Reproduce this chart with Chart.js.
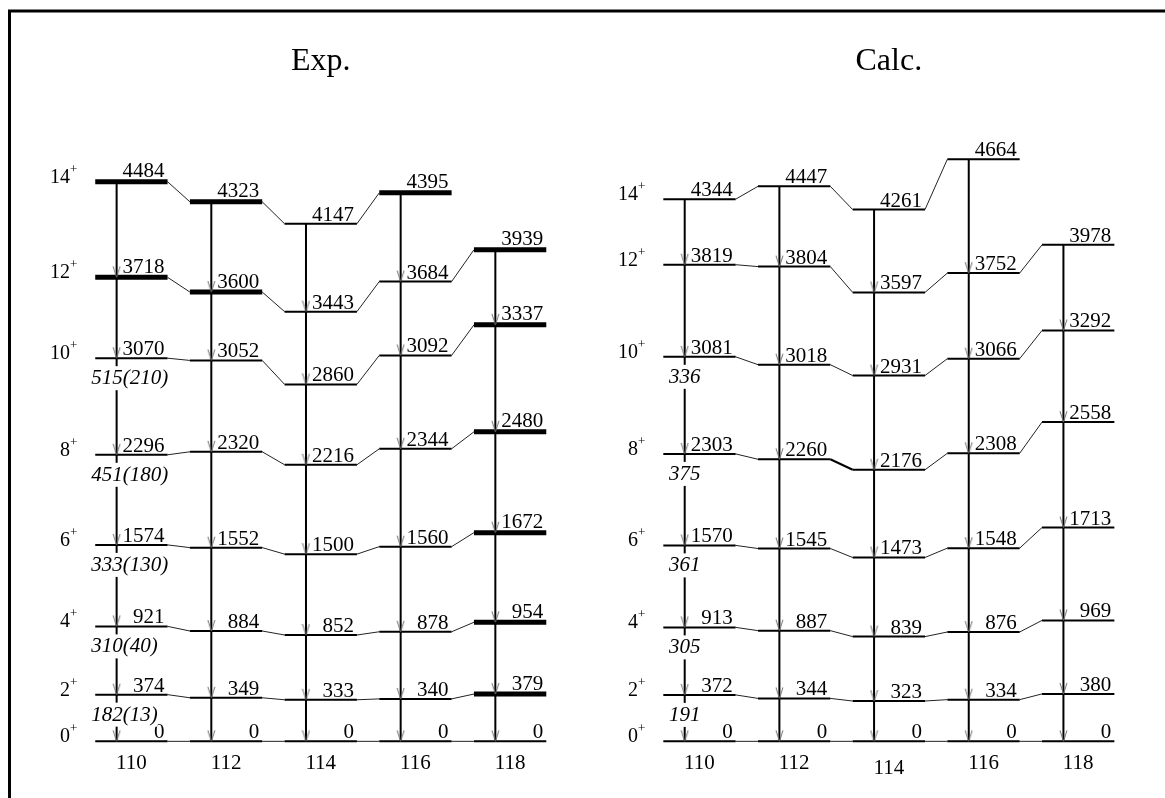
<!DOCTYPE html>
<html>
<head>
<meta charset="utf-8">
<title>Level schemes</title>
<script src="https://cdn.jsdelivr.net/npm/chart.js@4.4.1/dist/chart.umd.min.js"></script>
<style>
  html, body { margin: 0; padding: 0; background: #fff; }
  #wrap { width: 1165px; height: 798px; }
</style>
</head>
<body>
<div id="wrap"><canvas id="scheme" width="1165" height="798"></canvas></div>
<script>
// ---- data -------------------------------------------------------------
const nuclei = ['110', '112', '114', '116', '118'];
const spins = ['0', '2', '4', '6', '8', '10', '12', '14'];

// level energies in keV, indexed by spin 0+ ... 14+
const exp110 = [0, 374, 921, 1574, 2296, 3070, 3718, 4484];
const exp112 = [0, 349, 884, 1552, 2320, 3052, 3600, 4323];
const exp114 = [0, 333, 852, 1500, 2216, 2860, 3443, 4147];
const exp116 = [0, 340, 878, 1560, 2344, 3092, 3684, 4395];
const exp118 = [0, 379, 954, 1672, 2480, 3337, 3939, null];

const calc110 = [0, 372, 913, 1570, 2303, 3081, 3819, 4344];
const calc112 = [0, 344, 887, 1545, 2260, 3018, 3804, 4447];
const calc114 = [0, 323, 839, 1473, 2176, 2931, 3597, 4261];
const calc116 = [0, 334, 876, 1548, 2308, 3066, 3752, 4664];
const calc118 = [0, 380, 969, 1713, 2558, 3292, 3978, null];

// B(E2) values along the 110 cascade: 10+->8+, 8+->6+, 6+->4+, 4+->2+, 2+->0+
const expBE2 = ['515(210)', '451(180)', '333(130)', '310(40)', '182(13)'];
const calcBE2 = ['336', '375', '361', '305', '191'];
const be2FromSpin = [5, 4, 3, 2, 1];

// levels marked with a heavy bar: [nucleus index, spin index]
const expHeavy = [[0, 6], [0, 7], [1, 6], [1, 7], [3, 7],
                  [4, 1], [4, 2], [4, 3], [4, 4], [4, 5], [4, 6]];
const calcHeavy = [];

// ---- geometry (column units on the x axis) ----------------------------
const LEVEL_W = 0.764;   // width of a level bar
const LINE_X = 0.226;    // position of the transition line inside a bar
const X_MIN = -0.953, X_MAX = 11.246;
const Y_MIN = -414, Y_MAX = 5900;

const panels = [
  { title: 'Exp.', col0: 0, levels: [exp110, exp112, exp114, exp116, exp118],
    be2: expBE2, heavy: expHeavy, be2Align: 'left',
    labelDrop: [0, 0, 0, 0, 0], heavyLinks: [] },
  { title: 'Calc.', col0: 6, levels: [calc110, calc112, calc114, calc116, calc118],
    be2: calcBE2, heavy: calcHeavy, be2Align: 'center',
    labelDrop: [0, 0, 5, 0, 0], heavyLinks: [[1, 4]] }
];

// ---- build datasets ---------------------------------------------------
const thinLevels = [], heavyLevels = [], links = [], boldLinks = [],
      cascades = [], arrows = [];
const gap = c => ({ x: c, y: null });

panels.forEach(p => {
  p.levels.forEach((lv, n) => {
    const c = p.col0 + n;
    let top = null;
    lv.forEach((e, s) => {
      if (e === null) return;
      const heavy = p.heavy.some(h => h[0] === n && h[1] === s);
      const target = heavy ? heavyLevels : thinLevels;
      target.push({ x: c, y: e }, { x: c + LEVEL_W, y: e }, gap(c));
      top = (top === null || e > top) ? e : top;
      // link to the same spin in the next nucleus
      if (n + 1 < p.levels.length) {
        const e2 = p.levels[n + 1][s];
        if (e2 !== null && e2 !== undefined) {
          const bold = p.heavyLinks.some(h => h[0] === n && h[1] === s);
          (bold ? boldLinks : links).push({ x: c + LEVEL_W, y: e }, { x: c + 1, y: e2 }, gap(c));
        }
      }
    });
    cascades.push({ x: c + LINE_X, y: top }, { x: c + LINE_X, y: 0 }, gap(c));
    lv.forEach(e => {
      if (e !== null && e < top) arrows.push({ x: c + LINE_X, y: e });
    });
  });
});

// open arrowhead with its tip at the centre of the image
function arrowHead() {
  const cv = document.createElement('canvas');
  cv.width = 9; cv.height = 24;
  const g = cv.getContext('2d');
  g.strokeStyle = '#6f6f6f';
  g.lineWidth = 1;
  g.beginPath();
  g.moveTo(1, 1); g.lineTo(4.5, 12); g.lineTo(8, 1);
  g.stroke();
  return cv;
}

const SERIF = '"Liberation Serif", "Times New Roman", serif';

// frame, titles and all level annotations
const annotate = {
  id: 'annotate',
  afterDatasetsDraw(chart) {
    const ctx = chart.ctx;
    const xs = chart.scales.x, ys = chart.scales.y;
    const X = v => xs.getPixelForValue(v);
    const Y = v => ys.getPixelForValue(v);
    ctx.save();
    ctx.fillStyle = '#000';
    ctx.textBaseline = 'alphabetic';

    panels.forEach(p => {
      // title
      ctx.font = '32px ' + SERIF;
      ctx.textAlign = 'center';
      ctx.fillText(p.title, X(p.col0 + 2 + LEVEL_W / 2), 70);

      // spin labels, next to the first nucleus
      const first = p.levels[0];
      spins.forEach((sp, s) => {
        const y = Y(first[s]) + 1;
        const xr = X(p.col0) - 18;
        ctx.font = '13px ' + SERIF;
        const pw = ctx.measureText('+').width;
        ctx.textAlign = 'left';
        ctx.fillText('+', xr - pw, y - 10);
        ctx.font = '20px ' + SERIF;
        ctx.textAlign = 'right';
        ctx.fillText(sp, xr - pw, y);
      });

      p.levels.forEach((lv, n) => {
        const c = p.col0 + n;
        // energies
        ctx.font = '21px ' + SERIF;
        ctx.textAlign = 'right';
        lv.forEach((e, s) => {
          if (e === null) return;
          const heavy = p.heavy.some(h => h[0] === n && h[1] === s);
          ctx.fillText(String(e), X(c + LEVEL_W) - 3, Y(e) - (heavy ? 4.5 : 3));
        });
        // nucleus label
        ctx.textAlign = 'center';
        ctx.fillText(nuclei[n], X(c + LEVEL_W / 2), Y(0) + 28 + p.labelDrop[n]);
      });

      // B(E2) values interrupt the 110 cascade line
      const lv = p.levels[0];
      ctx.font = 'italic 21px ' + SERIF;
      p.be2.forEach((t, i) => {
        const yb = Y(lv[be2FromSpin[i]]) + 26;
        const w = ctx.measureText(t).width;
        let xl;
        if (p.be2Align === 'left') { xl = X(p.col0) - 4; }
        else { xl = X(p.col0 + LINE_X) - w / 2; }
        ctx.fillStyle = '#fff';
        ctx.fillRect(xl, yb - 18, w, 24);
        ctx.fillStyle = '#000';
        ctx.textAlign = 'left';
        ctx.fillText(t, xl, yb);
      });
    });

    // frame
    ctx.strokeStyle = '#000';
    ctx.lineWidth = 3;
    ctx.beginPath();
    ctx.moveTo(9.5, chart.height);
    ctx.lineTo(9.5, 11);
    ctx.lineTo(chart.width, 11);
    ctx.stroke();
    ctx.restore();
  }
};

const lineSet = (data, width, extra) => Object.assign({
  data, showLine: true, borderColor: '#000', borderWidth: width,
  pointRadius: 0, spanGaps: false, borderCapStyle: 'butt', fill: false
}, extra || {});

new Chart(document.getElementById('scheme'), {
  type: 'scatter',
  data: {
    datasets: [
      lineSet(heavyLevels, 5, { order: 1 }),
      lineSet(thinLevels, 2, { order: 2 }),
      lineSet(cascades, 2, { order: 3 }),
      lineSet(links, 1, { order: 4, borderColor: '#222' }),
      lineSet(boldLinks, 2, { order: 4 }),
      { data: arrows, showLine: false, pointStyle: arrowHead(), pointRadius: 3,
        order: 0 }
    ]
  },
  options: {
    responsive: false,
    animation: false,
    events: [],
    layout: { padding: 0 },
    plugins: { legend: { display: false }, tooltip: { enabled: false } },
    scales: {
      x: { type: 'linear', display: false, min: X_MIN, max: X_MAX },
      y: { type: 'linear', display: false, min: Y_MIN, max: Y_MAX }
    }
  },
  plugins: [annotate]
});
</script>
</body>
</html>
